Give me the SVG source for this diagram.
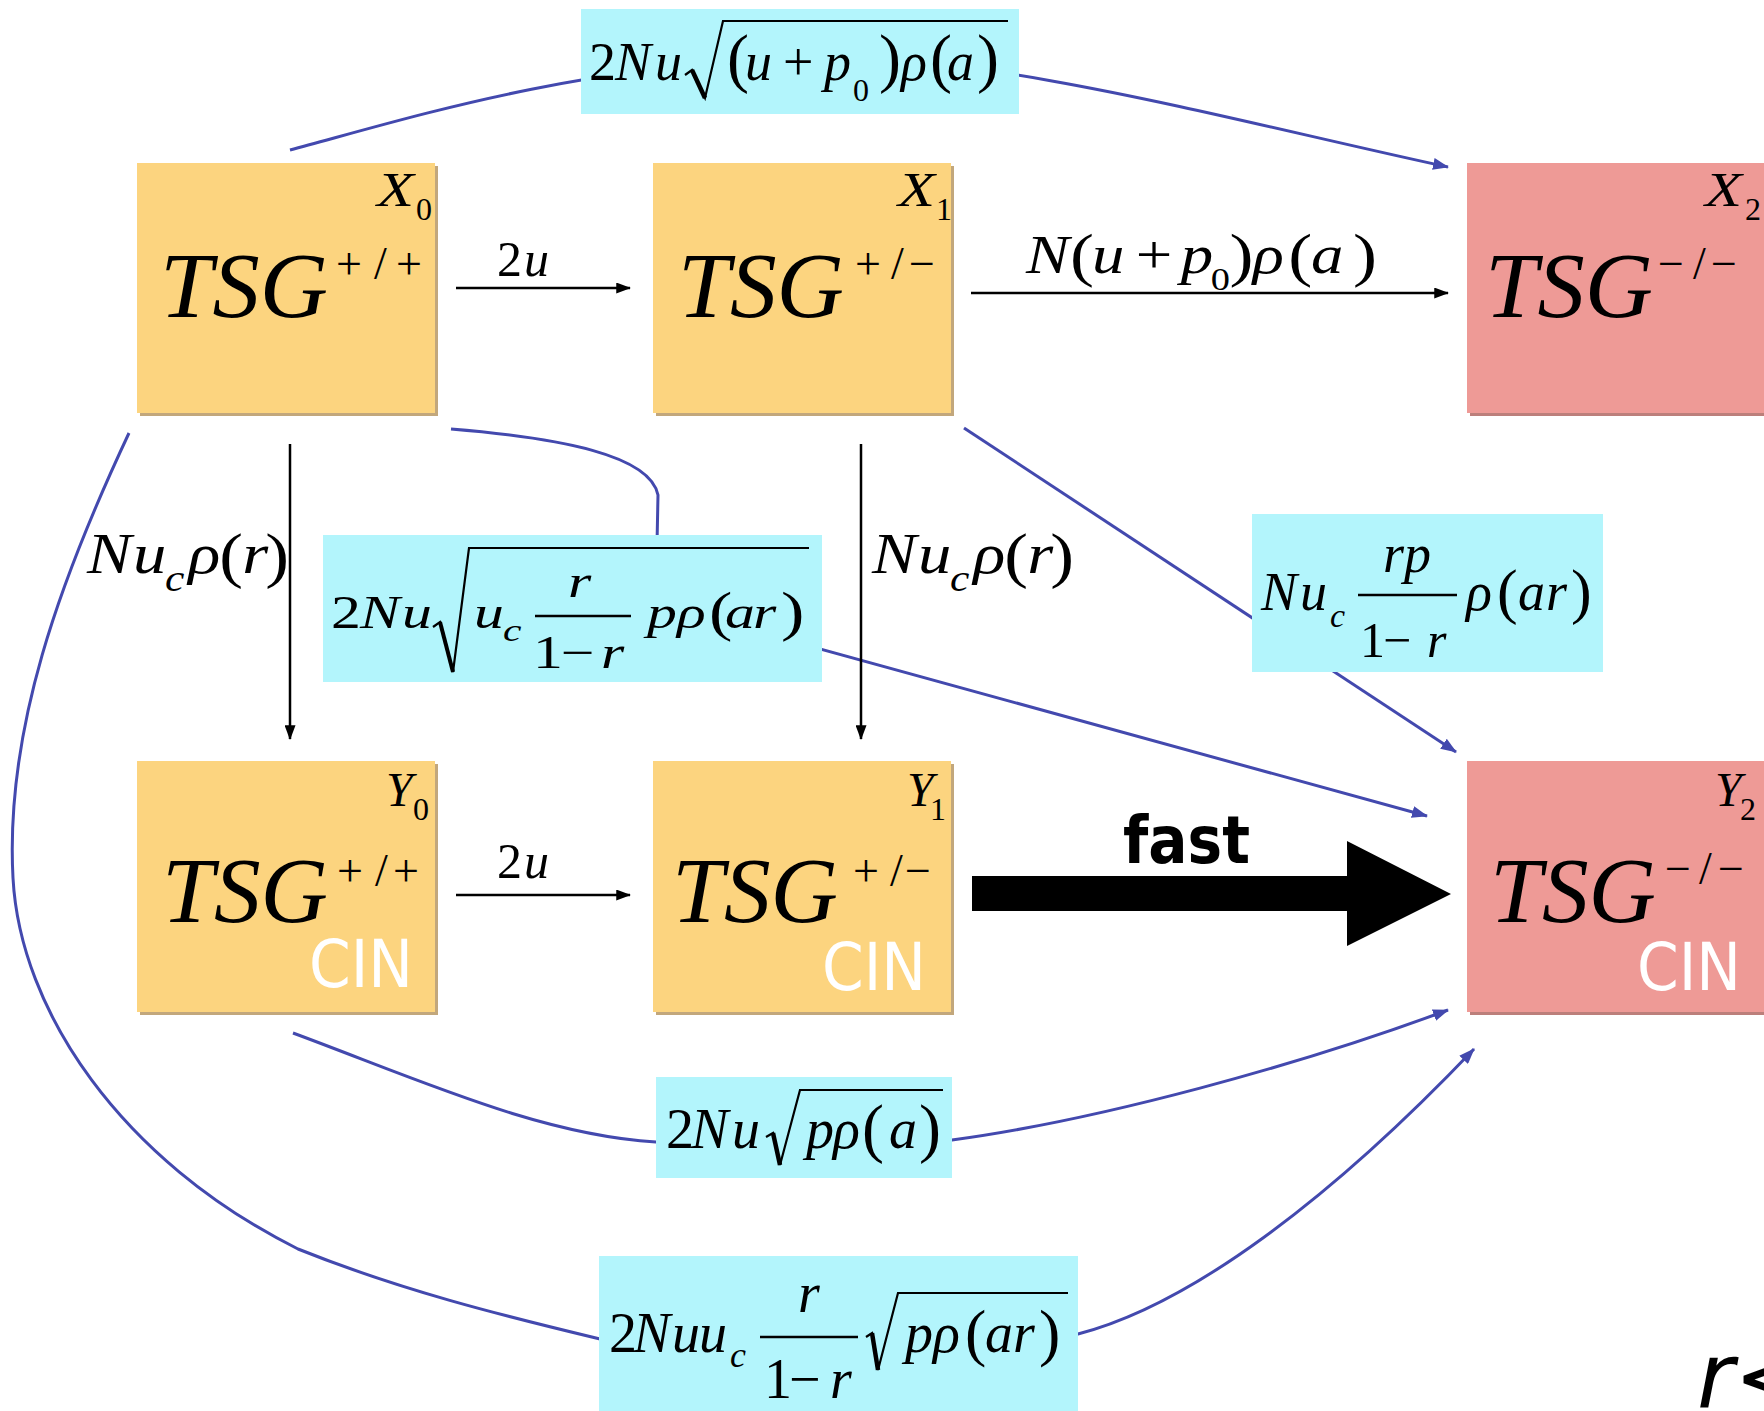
<svg xmlns="http://www.w3.org/2000/svg" width="1764" height="1411" viewBox="0 0 1764 1411">
<defs>
<style>
.m{font-family:"Liberation Serif","Times New Roman",serif;fill:#000}
.i{font-style:italic}
.blue{fill:none;stroke:#4349AE;stroke-width:3}
.blk{fill:none;stroke:#000;stroke-width:2.5}
.lbl{fill:#B3F5FC}
.org{fill:#FCD47F}
.orgs{fill:#C2A77C}
.pnk{fill:#EE9A96}
.pnks{fill:#BC7F7B}
.cin{font-family:"DejaVu Sans",Verdana,sans-serif;fill:#fff;font-size:66px}
.tsg{font-size:94px}
.rad{fill:none;stroke:#000;stroke-width:2.2;stroke-linejoin:miter}
.bar{stroke:#000;stroke-width:2.5}
</style>
<marker id="ab" viewBox="0 0 16 12" refX="15" refY="6" markerWidth="16" markerHeight="12" markerUnits="userSpaceOnUse" orient="auto"><path d="M0,0 L16,6 L0,12 z" fill="#4349AE"/></marker>
<marker id="ak" viewBox="0 0 16 12" refX="15" refY="6" markerWidth="16" markerHeight="11" markerUnits="userSpaceOnUse" orient="auto"><path d="M0,0 L16,6 L0,12 z" fill="#000"/></marker>
</defs>
<rect width="1764" height="1411" fill="#fff"/>

<g id="connectors">
<path class="blue" d="M290,150 C420,115 560,70 800,55 C1000,55 1230,120 1448,167" marker-end="url(#ab)"/>
<path class="blue" d="M451,429 C560,438 650,455 658,495 L657,545 L780,638 L1427,816" marker-end="url(#ab)"/>
<path class="blue" d="M964,428 L1456,752" marker-end="url(#ab)"/>
<path class="blue" d="M293,1033 C420,1080 540,1135 656,1142 L952,1140 C1100,1120 1300,1065 1448,1010" marker-end="url(#ab)"/>
<path class="blue" d="M129,433 C60,580 5,730 13,878 C20,1010 120,1160 298,1249 C400,1290 500,1315 600,1339 L1078,1334 C1190,1305 1330,1200 1474,1049" marker-end="url(#ab)"/>
<path class="blk" d="M456,288 L630,288" marker-end="url(#ak)"/>
<path class="blk" d="M971,293 L1448,293" marker-end="url(#ak)"/>
<path class="blk" d="M456,895 L630,895" marker-end="url(#ak)"/>
<path class="blk" d="M290,444 L290,739" marker-end="url(#ak)"/>
<path class="blk" d="M861,444 L861,739" marker-end="url(#ak)"/>
<path d="M972,876 L1347,876 L1347,841 L1451,894 L1347,946 L1347,911 L972,911 z" fill="#000"/>
</g>

<g id="node-X0">
<rect class="orgs" x="140" y="166" width="298" height="250"/>
<rect class="org" x="137" y="163" width="298" height="250"/>
<text class="m i tsg" x="160" y="317" textLength="168" lengthAdjust="spacingAndGlyphs">TSG</text>
<text class="m" y="279" font-size="46"><tspan x="336">+</tspan><tspan x="374">/</tspan><tspan x="396">+</tspan></text>
<text class="m i" x="377" y="206" font-size="48" textLength="37" lengthAdjust="spacingAndGlyphs">X</text><text class="m" x="416" y="220" font-size="32">0</text>
</g>
<g id="node-X1">
<rect class="orgs" x="656" y="166" width="298" height="250"/>
<rect class="org" x="653" y="163" width="298" height="250"/>
<text class="m i tsg" x="678" y="317" textLength="166" lengthAdjust="spacingAndGlyphs">TSG</text>
<text class="m" y="279" font-size="46"><tspan x="855">+</tspan><tspan x="891">/</tspan><tspan x="909">−</tspan></text>
<text class="m i" x="898" y="206" font-size="48" textLength="37" lengthAdjust="spacingAndGlyphs">X</text><text class="m" x="936" y="220" font-size="32">1</text>
</g>
<g id="node-X2">
<rect class="pnks" x="1470" y="166" width="300" height="250"/>
<rect class="pnk" x="1467" y="163" width="300" height="250"/>
<text class="m i tsg" x="1485" y="317" textLength="168" lengthAdjust="spacingAndGlyphs">TSG</text>
<text class="m" y="279" font-size="46"><tspan x="1658">−</tspan><tspan x="1693">/</tspan><tspan x="1711">−</tspan></text>
<text class="m i" x="1705" y="206" font-size="48" textLength="37" lengthAdjust="spacingAndGlyphs">X</text><text class="m" x="1745" y="220" font-size="32">2</text>
</g>
<g id="node-Y0">
<rect class="orgs" x="140" y="764" width="298" height="251"/>
<rect class="org" x="137" y="761" width="298" height="251"/>
<text class="m i tsg" x="162" y="922" textLength="166" lengthAdjust="spacingAndGlyphs">TSG</text>
<text class="m" y="886" font-size="46"><tspan x="337">+</tspan><tspan x="375">/</tspan><tspan x="393">+</tspan></text>
<text class="m i" x="386" y="806" font-size="48">Y</text><text class="m" x="413" y="820" font-size="32">0</text>
<text class="cin" x="309" y="987" textLength="104" lengthAdjust="spacingAndGlyphs">CIN</text>
</g>
<g id="node-Y1">
<rect class="orgs" x="656" y="764" width="298" height="251"/>
<rect class="org" x="653" y="761" width="298" height="251"/>
<text class="m i tsg" x="672" y="922" textLength="166" lengthAdjust="spacingAndGlyphs">TSG</text>
<text class="m" y="886" font-size="46"><tspan x="853">+</tspan><tspan x="890">/</tspan><tspan x="905">−</tspan></text>
<text class="m i" x="907" y="806" font-size="48">Y</text><text class="m" x="930" y="820" font-size="32">1</text>
<text class="cin" x="822" y="990" textLength="104" lengthAdjust="spacingAndGlyphs">CIN</text>
</g>
<g id="node-Y2">
<rect class="pnks" x="1470" y="764" width="300" height="251"/>
<rect class="pnk" x="1467" y="761" width="300" height="251"/>
<text class="m i tsg" x="1490" y="922" textLength="166" lengthAdjust="spacingAndGlyphs">TSG</text>
<text class="m" y="884" font-size="46"><tspan x="1665">−</tspan><tspan x="1699">/</tspan><tspan x="1718">−</tspan></text>
<text class="m i" x="1715" y="806" font-size="48">Y</text><text class="m" x="1740" y="820" font-size="32">2</text>
<text class="cin" x="1637" y="990" textLength="104" lengthAdjust="spacingAndGlyphs">CIN</text>
</g>

<g id="edge-labels">
<g id="lbl-2u-top">
<text class="m" x="497" y="276" font-size="50">2</text><text class="m i" x="524" y="276" font-size="50">u</text>
</g>
<g id="lbl-2u-bottom">
<text class="m" x="497" y="878" font-size="50">2</text><text class="m i" x="524" y="878" font-size="50">u</text>
</g>
<g id="lbl-N-top" transform="translate(1026,0) scale(1.2,1) translate(-1026,0)">
<text class="m i" x="1026" y="273" font-size="54">N</text>
<text class="m" x="1062.7" y="275" font-size="60">(</text>
<text class="m i" x="1081" y="273" font-size="54">u</text>
<text class="m" x="1117.5" y="273" font-size="54">+</text>
<text class="m i" x="1155" y="273" font-size="54">p</text>
<text class="m" x="1180" y="290" font-size="32">0</text>
<text class="m" x="1195.5" y="275" font-size="60">)</text>
<text class="m i" x="1215" y="273" font-size="54">ρ</text>
<text class="m" x="1244.5" y="275" font-size="60">(</text>
<text class="m i" x="1263.5" y="273" font-size="54">a</text>
<text class="m" x="1298.5" y="275" font-size="60">)</text>
</g>
<g id="lbl-Nucr-left" transform="translate(87,0) scale(1.15,1) translate(-87,0)">
<text class="m i" x="87" y="573" font-size="58">N</text>
<text class="m i" x="127" y="573" font-size="58">u</text>
<text class="m i" x="154.8" y="591" font-size="38">c</text>
<text class="m i" x="175" y="573" font-size="58">ρ</text>
<text class="m" x="202" y="576" font-size="62">(</text>
<text class="m i" x="222" y="573" font-size="58">r</text>
<text class="m" x="242" y="576" font-size="62">)</text>
</g>
<g id="lbl-Nucr-right" transform="translate(872,0) scale(1.15,1) translate(-872,0)">
<text class="m i" x="872" y="573" font-size="58">N</text>
<text class="m i" x="912" y="573" font-size="58">u</text>
<text class="m i" x="939.8" y="591" font-size="38">c</text>
<text class="m i" x="960" y="573" font-size="58">ρ</text>
<text class="m" x="987" y="576" font-size="62">(</text>
<text class="m i" x="1007" y="573" font-size="58">r</text>
<text class="m" x="1027" y="576" font-size="62">)</text>
</g>
<g id="lbl-box1">
<rect class="lbl" x="581" y="9" width="438" height="105"/>
<text class="m" x="589" y="80" font-size="54">2</text>
<text class="m i" x="615" y="80" font-size="54">N</text>
<text class="m i" x="655" y="80" font-size="54">u</text>
<path class="rad" d="M685,75 L692,70 L705,98 L723,21 L1008,21"/>
<path d="M692,70 L705,98" stroke="#000" stroke-width="4.5"/>
<text class="m" x="727" y="80" font-size="66">(</text>
<text class="m i" x="745" y="80" font-size="54">u</text>
<text class="m" x="783" y="80" font-size="54">+</text>
<text class="m i" x="824" y="80" font-size="54">p</text>
<text class="m" x="853" y="101" font-size="32">0</text>
<text class="m" x="879" y="80" font-size="66">)</text>
<text class="m i" x="901" y="80" font-size="54">ρ</text>
<text class="m" x="930" y="80" font-size="66">(</text>
<text class="m i" x="947" y="80" font-size="54">a</text>
<text class="m" x="977" y="80" font-size="66">)</text>
</g>
<g id="lbl-box2">
<rect class="lbl" x="323" y="535" width="499" height="147"/>
<path class="rad" d="M433,627 L440,622 L453,672 L469,548 L809,548"/>
<path d="M440,622 L453,672" stroke="#000" stroke-width="4"/>
<line class="bar" x1="535" y1="616" x2="631" y2="616"/>
<g transform="translate(323,0) scale(1.3,1) translate(-323,0)">
<text class="m" x="329.2" y="628" font-size="46">2</text>
<text class="m i" x="351.5" y="628" font-size="46">N</text>
<text class="m i" x="383.8" y="628" font-size="46">u</text>
<text class="m i" x="439.2" y="628" font-size="46">u</text>
<text class="m i" x="461.5" y="641" font-size="32">c</text>
<text class="m i" x="511.5" y="597" font-size="46">r</text>
<text class="m" x="484.5" y="668" font-size="46">1</text>
<text class="m" x="506.1" y="668" font-size="46">−</text>
<text class="m i" x="536.9" y="668" font-size="46">r</text>
<text class="m i" x="572.2" y="628" font-size="46">p</text>
<text class="m i" x="595.3" y="628" font-size="46">ρ</text>
<text class="m" x="619.9" y="630" font-size="54">(</text>
<text class="m i" x="632.2" y="628" font-size="46">a</text>
<text class="m i" x="653.8" y="628" font-size="46">r</text>
<text class="m" x="675.3" y="630" font-size="54">)</text>
</g>
</g>
<g id="lbl-box3">
<rect class="lbl" x="1252" y="514" width="351" height="158"/>
<text class="m i" x="1261" y="610" font-size="54">N</text>
<text class="m i" x="1300" y="610" font-size="54">u</text>
<text class="m i" x="1330" y="627" font-size="34">c</text>
<line class="bar" x1="1358" y1="595" x2="1457" y2="595"/>
<text class="m i" x="1383" y="572" font-size="54">r</text>
<text class="m i" x="1404" y="572" font-size="54">p</text>
<text class="m" x="1360" y="657" font-size="50">1</text>
<text class="m" x="1383" y="657" font-size="50">−</text>
<text class="m i" x="1427" y="657" font-size="50">r</text>
<text class="m i" x="1466" y="610" font-size="54">ρ</text>
<text class="m" x="1497" y="612" font-size="62">(</text>
<text class="m i" x="1518" y="610" font-size="54">a</text>
<text class="m i" x="1546" y="610" font-size="54">r</text>
<text class="m" x="1571" y="612" font-size="62">)</text>
</g>
<g id="lbl-box4">
<rect class="lbl" x="656" y="1077" width="296" height="101"/>
<text class="m" x="666" y="1148" font-size="56">2</text>
<text class="m i" x="691" y="1148" font-size="56">N</text>
<text class="m i" x="732" y="1148" font-size="56">u</text>
<path class="rad" d="M766,1137 L773,1133 L780,1165 L800,1090 L943,1090"/>
<path d="M773,1133 L780,1165" stroke="#000" stroke-width="4.5"/>
<text class="m i" x="806" y="1148" font-size="56">p</text>
<text class="m i" x="833" y="1148" font-size="56">ρ</text>
<text class="m" x="862" y="1150" font-size="66">(</text>
<text class="m i" x="889" y="1148" font-size="56">a</text>
<text class="m" x="919" y="1150" font-size="66">)</text>
</g>
<g id="lbl-box5">
<rect class="lbl" x="599" y="1256" width="479" height="155"/>
<text class="m" x="609" y="1352" font-size="56">2</text>
<text class="m i" x="633" y="1352" font-size="56">N</text>
<text class="m i" x="672" y="1352" font-size="56">u</text>
<text class="m i" x="699" y="1352" font-size="56">u</text>
<text class="m i" x="730" y="1367" font-size="36">c</text>
<line class="bar" x1="760" y1="1337" x2="858" y2="1337"/>
<text class="m i" x="798" y="1312" font-size="56">r</text>
<text class="m" x="764" y="1398" font-size="56">1</text>
<text class="m" x="789" y="1398" font-size="56">−</text>
<text class="m i" x="830" y="1398" font-size="56">r</text>
<path class="rad" d="M866,1337 L872,1333 L878,1370 L898,1293 L1068,1293"/>
<path d="M872,1333 L878,1370" stroke="#000" stroke-width="4.5"/>
<text class="m i" x="905" y="1352" font-size="56">p</text>
<text class="m i" x="933" y="1352" font-size="56">ρ</text>
<text class="m" x="965" y="1354" font-size="64">(</text>
<text class="m i" x="985" y="1352" font-size="56">a</text>
<text class="m i" x="1013" y="1352" font-size="56">r</text>
<text class="m" x="1039" y="1354" font-size="64">)</text>
</g>
<text id="lbl-fast" x="1123" y="863" font-family="DejaVu Sans, Verdana, sans-serif" font-weight="bold" font-size="66" textLength="127" lengthAdjust="spacingAndGlyphs">fast</text>
</g>
<text id="note-r" x="1697" y="1408" font-family="DejaVu Sans, Verdana, sans-serif" font-style="italic" font-size="90">r&lt;</text>
</svg>
